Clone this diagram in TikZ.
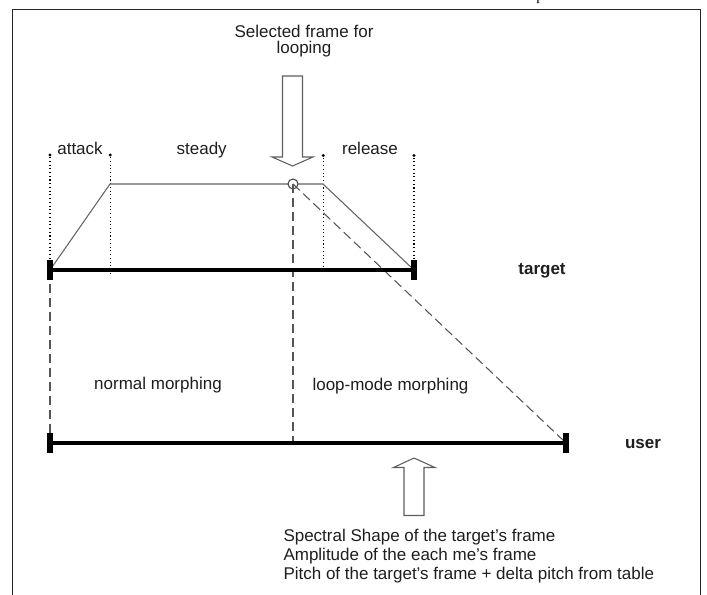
\documentclass[tikz,border=0pt]{standalone}
\usepackage{fontspec}
\setmainfont{Liberation Sans}
\newfontfamily\pagefont{Liberation Serif}
\usetikzlibrary{positioning}

\tikzset{every picture/.style={line width=0.75pt}}
\tikzset{
  lbl/.style={inner sep=0pt, anchor=base, font=\fontsize{12.75}{14}\selectfont, text={rgb,255:red,30;green,30;blue,30}},
  axislbl/.style={lbl, font=\fontsize{12.75}{14}\selectfont\bfseries},
  timeline/.style={line width=2.3pt},
  endtick/.style={line width=4pt},
  envelope/.style={color={rgb,255:red,100;green,100;blue,100}, line width=0.8pt},
  guide/.style={dotted, line width=0.8pt},
  mapline/.style={color={rgb,255:red,85;green,85;blue,85}, dash pattern=on 7pt off 3.5pt, line width=0.8pt},
  blockarrow/.style={color={rgb,255:red,95;green,95;blue,95}, fill=white, line width=0.8pt},
  tipdot/.style={circle, fill=black, inner sep=0pt, minimum size=2.4pt},
}

\begin{document}
\begin{tikzpicture}[x=0.75pt,y=0.75pt,yscale=-1,xscale=1]
\useasboundingbox (0,0) rectangle (707,595);

%Frame
\draw [color={rgb, 255:red, 40; green, 40; blue, 40 }] (12.7,600) -- (12.7,9.3) -- (700,9.3) -- (700,600) ;
% Text Node (cut off page text)
\node [anchor=base, inner sep=0pt, font=\pagefont\fontsize{11}{11}\selectfont] (pg) at (540,0.5) {p};

% Text Node
\node [lbl] (sel) at (304,37.3) {Selected frame for};
\node [lbl] (selb) at (304,54) {looping};

%Block Arrow (down)
\draw [blockarrow] (282.5,76) -- (302.5,76) -- (302.5,157) -- (313,157) -- (292.5,166) -- (272,157) -- (282.5,157) -- cycle ;

%Named points
\coordinate (t0) at (50,270);
\coordinate (t1) at (414,270);
\coordinate (u0) at (50,443);
\coordinate (u1) at (566,443);
\coordinate (a1) at (110,184);
\coordinate (s1) at (323,184);
\coordinate (gb) at (0,273);

%Section dots
\node [tipdot] (d0) at (50,155) {};
\node [tipdot] (d1) at (110.3,155) {};
\node [tipdot] (d2) at (323.3,155.5) {};
\node [tipdot] (d3) at (414,155.5) {};

%Dotted guides
\draw [guide] (d0) -- (d0 |- t0) ;
\draw [guide] (d1) -- (d1 |- gb) ;
\draw [guide] (d2) -- (d2 |- gb) ;
\draw [guide] (d3) -- (d3 |- gb) ;

% Text Node
\node [lbl] (att) at (80,155) {attack};
\node [lbl] (std) at (201.7,155) {steady};
\node [lbl] (rel) at (370,155) {release};

%Envelope
\draw [envelope] (t0) -- (a1) -- (s1) -- (t1) ;

%Selected frame
\node [circle, draw={rgb,255:red,70;green,70;blue,70}, fill=white, inner sep=0pt, minimum size=7.5pt, line width=0.8pt] (loop) at (293,184) {};

%Dashed mapping lines
\draw [mapline] (t0) -- (u0) ;
\draw [mapline] (loop.center) -- (loop |- u0) ;
\draw [mapline] (loop.center) -- (u1) ;

%Target time line
\draw [timeline] (t0) -- (t1) ;
\draw [endtick] ([yshift=7.3pt]t0) -- ([yshift=-7.3pt]t0) ;
\draw [endtick] ([yshift=7.3pt]t1) -- ([yshift=-7.3pt]t1) ;
% Text Node
\node [axislbl] (tgt) at (542,275) {target};

%User time line
\draw [timeline] (u0) -- (u1) ;
\draw [endtick] ([yshift=7.3pt]u0) -- ([yshift=-7.3pt]u0) ;
\draw [endtick] ([yshift=7.3pt]u1) -- ([yshift=-7.3pt]u1) ;
% Text Node
\node [axislbl] (usr) at (643,448) {user};

% Text Node
\node [lbl] (nrm) at (158,389) {normal morphing};
\node [lbl] (lpm) at (390.5,390) {loop-mode morphing};

%Block Arrow (up)
\draw [blockarrow] (404,515.5) -- (424,515.5) -- (424,467.5) -- (435,467.5) -- (414,458) -- (393.5,467.5) -- (404,467.5) -- cycle ;

% Text Node
\node [lbl, anchor=base west] (spc) at (283,541) {Spectral Shape of the target's frame};
\node [lbl, anchor=base west] (amp) at (283,560) {Amplitude of the each me's frame};
\node [lbl, anchor=base west] (pch) at (283,579) {Pitch of the target's frame + delta pitch from table};
\end{tikzpicture}
\end{document}
